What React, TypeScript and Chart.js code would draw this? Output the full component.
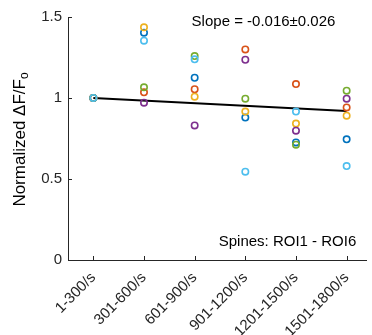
import React, { useEffect, useRef } from "react";
import { Chart, registerables } from "chart.js";

Chart.register(...registerables);

const categories = ["1-300/s", "301-600/s", "601-900/s", "901-1200/s", "1201-1500/s", "1501-1800/s"];
const roiNames = ["ROI1", "ROI2", "ROI3", "ROI4", "ROI5", "ROI6"];
const roiColors = ["#0072BD", "#D95319", "#EDB120", "#7E2F8E", "#77AC30", "#4DBEEE"];
const roi1 = [1, 1.403, 1.125, 0.879, 0.726, 0.745];
const roi2 = [1, 1.035, 1.054, 1.3, 1.086, 0.942];
const roi3 = [1, 1.436, 1.008, 0.916, 0.842, 0.891];
const roi4 = [1, 0.971, 0.831, 1.236, 0.798, 0.996];
const roi5 = [1, 1.066, 1.259, 0.996, 0.712, 1.045];
const roi6 = [1, 1.354, 1.239, 0.545, 0.916, 0.58];
const roiValues = [roi1, roi2, roi3, roi4, roi5, roi6];
const fitX = [1, 6];
const fitY = [1.0, 0.92];
const yTicks = [0, 0.5, 1, 1.5];
const slopeText = "Slope = -0.016\u00B10.026";
const spinesText = "Spines: ROI1 - ROI6";

const AXIS = "#262626";
const FONT = "'Liberation Sans', Arial, sans-serif";

const decorPlugin = {
  id: "decor",
  afterDraw(chart: any) {
    const ctx = chart.ctx;
    const xs = chart.scales.x;
    const ys = chart.scales.y;
    const area = chart.chartArea;
    ctx.save();
    // inward ticks
    ctx.strokeStyle = AXIS;
    ctx.lineWidth = 1;
    ctx.beginPath();
    yTicks.forEach((v) => {
      const py = Math.round(ys.getPixelForValue(v)) + 0.5;
      ctx.moveTo(area.left, py);
      ctx.lineTo(area.left + 4, py);
    });
    categories.forEach((_, i) => {
      const px = Math.round(xs.getPixelForValue(i + 1)) + 0.5;
      ctx.moveTo(px, area.bottom);
      ctx.lineTo(px, area.bottom - 4);
    });
    ctx.stroke();
    // annotations
    ctx.fillStyle = "#000";
    ctx.font = `15px ${FONT}`;
    ctx.textBaseline = "middle";
    ctx.textAlign = "left";
    ctx.fillText(slopeText, xs.getPixelForValue(2.94), ys.getPixelForValue(1.469));
    ctx.textAlign = "right";
    ctx.fillText(spinesText, xs.getPixelForValue(6.19), ys.getPixelForValue(0.111));
    // y title
    const cy = (area.top + area.bottom) / 2 + 1;
    ctx.translate(20, cy);
    ctx.rotate(-Math.PI / 2);
    ctx.font = `17px ${FONT}`;
    const main = "Normalized \u0394F/F";
    const sub = "o";
    const wMain = ctx.measureText(main).width;
    ctx.font = `12px ${FONT}`;
    const wSub = ctx.measureText(sub).width;
    const start = -(wMain + wSub) / 2;
    ctx.textAlign = "left";
    ctx.font = `17px ${FONT}`;
    ctx.fillStyle = "#000";
    ctx.fillText(main, start, 0);
    ctx.font = `12px ${FONT}`;
    ctx.fillText(sub, start + wMain, 5);
    ctx.restore();
  },
};

export default function App() {
  const ref = useRef<HTMLCanvasElement>(null);
  useEffect(() => {
    if (!ref.current) return;
    const datasets: any[] = roiValues.map((vals, k) => ({
      type: "scatter",
      label: roiNames[k],
      data: vals.map((v, i) => ({ x: i + 1, y: v })),
      borderColor: roiColors[k],
      backgroundColor: "rgba(0,0,0,0)",
      pointRadius: 3.2,
      pointBorderWidth: 1.6,
      order: roiValues.length - k,
    }));
    datasets.push({
      type: "line",
      label: "fit",
      data: fitX.map((x, i) => ({ x, y: fitY[i] })),
      borderColor: "#000",
      borderWidth: 2,
      pointRadius: 0,
      fill: false,
      order: 20,
    });
    const chart = new Chart(ref.current, {
      type: "scatter",
      data: { datasets },
      plugins: [decorPlugin],
      options: {
        animation: false,
        responsive: false,
        devicePixelRatio: 1,
        layout: { padding: { top: 17, left: 0, right: 0, bottom: 0 } },
        plugins: { legend: { display: false }, tooltip: { enabled: false } },
        scales: {
          x: {
            type: "linear",
            min: 0.5,
            max: 6.39,
            grid: { display: false, drawTicks: false },
            border: { display: true, color: AXIS, width: 1 },
            afterBuildTicks: (s: any) => {
              s.ticks = categories.map((_, i) => ({ value: i + 1 }));
            },
            afterFit: (s: any) => {
              s.height = 75;
            },
            ticks: {
              autoSkip: false,
              minRotation: 45,
              maxRotation: 45,
              padding: 9,
              color: AXIS,
              font: { family: FONT, size: 15 },
              callback: (v: any) => categories[Math.round(v) - 1] ?? "",
            },
          },
          y: {
            type: "linear",
            min: 0,
            max: 1.5,
            grid: { display: false, drawTicks: false },
            border: { display: true, color: AXIS, width: 1 },
            afterBuildTicks: (s: any) => {
              s.ticks = yTicks.map((v) => ({ value: v }));
            },
            afterFit: (s: any) => {
              s.width = 68;
            },
            ticks: {
              padding: 6,
              color: AXIS,
              font: { family: FONT, size: 15 },
              callback: (v: any) => String(v),
            },
          },
        },
      },
    });
    return () => chart.destroy();
  }, []);
  return (
    <div style={{ position: "fixed", left: 0, top: 0, width: 372, height: 335, background: "#fff" }}>
      <canvas ref={ref} width={372} height={335} style={{ width: 372, height: 335 }} />
    </div>
  );
}
